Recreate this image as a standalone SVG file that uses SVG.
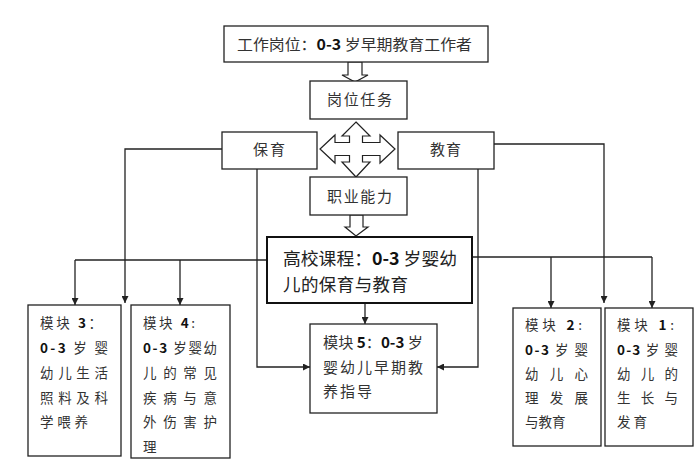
<svg xmlns="http://www.w3.org/2000/svg" width="696" height="463" viewBox="0 0 696 463">
<defs>
<marker id="ah" viewBox="0 0 10 10" refX="10" refY="5" markerWidth="7" markerHeight="7" markerUnits="userSpaceOnUse" orient="auto"><path d="M0,0 L10,5 L0,10 z" fill="#222"/></marker>
<style>
.box{fill:#fff;stroke:#222;stroke-width:1.3}
.thick{fill:#fff;stroke:#111;stroke-width:2}
.hollow{fill:#fff;stroke:#222;stroke-width:1.2;stroke-linejoin:miter}
.ln{fill:none;stroke:#222;stroke-width:1.3;marker-end:url(#ah)}
.ln0{fill:none;stroke:#222;stroke-width:1.3}
text{font-family:"Noto Sans CJK SC","Liberation Sans",sans-serif;fill:#333}
.t15{font-size:15px}
.t17{font-size:17.5px;fill:#222}
.m{font-size:13.5px}
.b{font-weight:bold;fill:#111}
</style>
</defs>
<rect width="696" height="463" fill="#fff"/>
<g id="connectors">
<polyline class="ln" points="222,149 125,149 125,303"/>
<polyline class="ln0" points="267,260 75,260"/>
<polyline class="ln" points="75,260 75,305"/>
<polyline class="ln" points="180,260 180,305"/>
<polyline class="ln" points="257,169 257,367 310,367"/>
<polyline class="ln" points="365,303 365,324"/>
<polyline class="ln" points="494,144 604,144 604,303"/>
<polyline class="ln" points="478,169 478,367 437,367"/>
<polyline class="ln0" points="472,257 652,257"/>
<polyline class="ln" points="652,257 652,308"/>
<polyline class="ln" points="551,257 551,308"/>
<polygon class="hollow" points="348,62 362,62 362,75 368,75 355,82 342,75 348,75"/>
<polygon class="hollow" points="350,215 363,215 363,227 368,227 356,236 345,227 350,227"/>
<polygon class="hollow" points="356,122 370,136 362.5,136 362.5,142.5 380,142.5 380,135 395,149 380,163 380,155.5 362.5,155.5 362.5,162 370,162 356,177 342,162 349.5,162 349.5,155.5 335,155.5 335,163 320,149 335,135 335,142.5 349.5,142.5 349.5,136 342,136"/>
</g>
<g id="n-top"><rect class="box" x="224" y="26" width="264" height="36"/><text class="t15" x="237" y="50" textLength="235" lengthAdjust="spacingAndGlyphs">工作岗位：<tspan class="b">0-3</tspan> 岁早期教育工作者</text></g>
<g id="n-task"><rect class="box" x="310" y="81" width="97" height="38"/><text class="t15" x="327" y="105" textLength="65">岗位任务</text></g>
<g id="n-baoyu"><rect class="box" x="222" y="132" width="95" height="37"/><text class="t15" x="253" y="155" textLength="32">保育</text></g>
<g id="n-jiaoyu"><rect class="box" x="398" y="132" width="96" height="37"/><text class="t15" x="430" y="155" textLength="31">教育</text></g>
<g id="n-ability"><rect class="box" x="310" y="177" width="97" height="38"/><text class="t15" x="327" y="202" textLength="65">职业能力</text></g>
<g id="n-course"><rect class="thick" x="267" y="237" width="205" height="66"/><text class="t17" x="283" y="265" textLength="174" lengthAdjust="spacingAndGlyphs">高校课程：<tspan class="b">0-3</tspan> 岁婴幼</text><text class="t17" x="283" y="291" textLength="125">儿的保育与教育</text></g>
<g id="n-m5"><rect class="box" x="310" y="324" width="127" height="89"/><text class="t15" x="323" y="348" textLength="100" lengthAdjust="spacingAndGlyphs">模块 <tspan class="b">5</tspan>：<tspan class="b">0-3</tspan> 岁</text><text class="t15" x="323" y="373" textLength="100">婴幼儿早期教</text><text class="t15" x="323" y="397" textLength="49">养指导</text></g>
<g id="n-m3"><rect class="box" x="28" y="305" width="93" height="151"/>
<text class="m" x="40" y="328" textLength="62">模块 <tspan class="b">3</tspan>：</text>
<text class="m" x="40" y="353" textLength="68"><tspan class="b">0-3</tspan> 岁 婴</text>
<text class="m" x="40" y="378" textLength="68">幼儿生活</text>
<text class="m" x="40" y="403" textLength="68">照料及科</text>
<text class="m" x="40" y="427" textLength="48">学喂养</text></g>
<g id="n-m4"><rect class="box" x="131" y="305" width="99" height="153"/>
<text class="m" x="143" y="328" textLength="52">模块 <tspan class="b">4</tspan>:</text>
<text class="m" x="143" y="353" textLength="74"><tspan class="b">0-3</tspan> 岁婴幼</text>
<text class="m" x="143" y="378" textLength="74">儿 的 常 见</text>
<text class="m" x="143" y="403" textLength="74">疾 病 与 意</text>
<text class="m" x="143" y="427" textLength="74">外 伤 害 护</text>
<text class="m" x="143" y="452">理</text></g>
<g id="n-m2"><rect class="box" x="513" y="308" width="88" height="138"/>
<text class="m" x="525" y="330" textLength="57">模块 <tspan class="b">2</tspan>:</text>
<text class="m" x="525" y="355" textLength="63"><tspan class="b">0-3</tspan> 岁 婴</text>
<text class="m" x="525" y="379" textLength="63">幼 儿 心</text>
<text class="m" x="525" y="403" textLength="63">理 发 展</text>
<text class="m" x="525" y="427">与教育</text></g>
<g id="n-m1"><rect class="box" x="605" y="308" width="88" height="138"/>
<text class="m" x="617" y="330" textLength="57">模块 <tspan class="b">1</tspan>:</text>
<text class="m" x="617" y="355" textLength="61"><tspan class="b">0-3</tspan> 岁 婴</text>
<text class="m" x="617" y="379" textLength="61">幼 儿 的</text>
<text class="m" x="617" y="403" textLength="61">生 长 与</text>
<text class="m" x="617" y="427" textLength="30">发育</text></g>
</svg>
